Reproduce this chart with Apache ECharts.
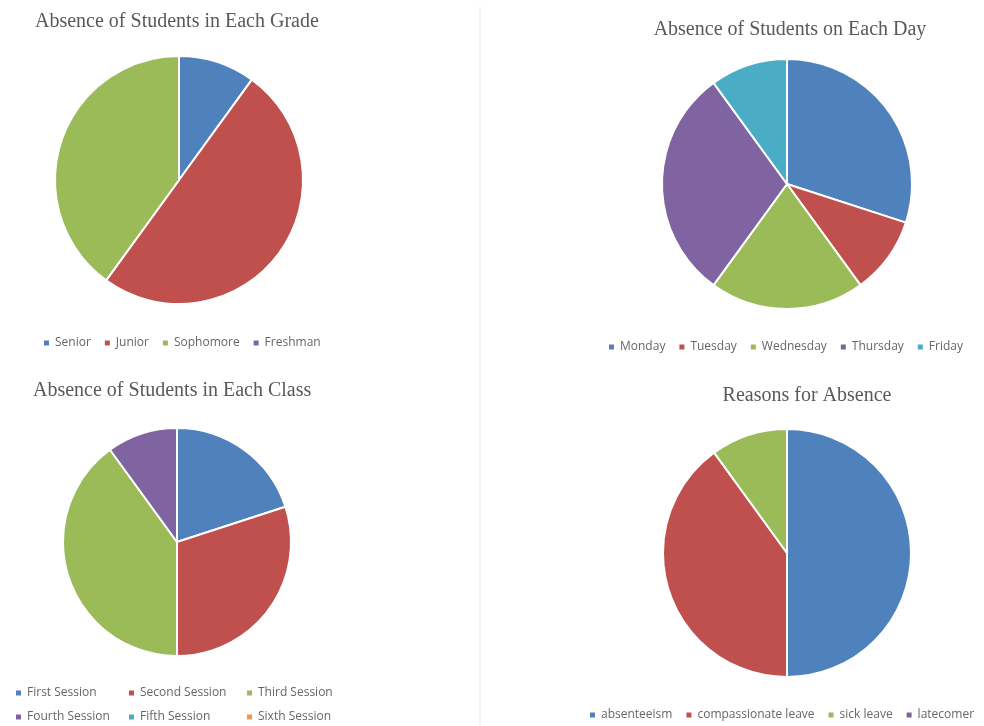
<!DOCTYPE html>
<html>
<head>
<meta charset="utf-8">
<script src="https://cdn.jsdelivr.net/npm/echarts@6/dist/echarts.min.js"></script>
<style>
html,body{margin:0;padding:0;background:#fff;}
#c{width:984px;height:726px;}
</style>
</head>
<body>
<div id="c"></div>
<script>
// Chart 1: grades
var gradeNames = ['Senior', 'Junior', 'Sophomore', 'Freshman'];
var gradeValues = [10, 50, 40, 0];
// Chart 2: days
var dayNames = ['Monday', 'Tuesday', 'Wednesday', 'Thursday', 'Friday'];
var dayValues = [30, 10, 20, 30, 10];
// Chart 3: class sessions
var sessionNames = ['First Session', 'Second Session', 'Third Session', 'Fourth Session', 'Fifth Session', 'Sixth Session'];
var sessionValues = [20, 30, 40, 10, 0, 0];
// Chart 4: reasons
var reasonNames = ['absenteeism', 'compassionate leave', 'sick leave', 'latecomer'];
var reasonValues = [50, 40, 10, 0];

var titles = ['Absence of Students in Each Grade', 'Absence of Students on Each Day', 'Absence of Students in Each Class', 'Reasons for Absence'];

var palette = ['#4F81BD', '#C0504D', '#9BBB59', '#8064A2', '#4BACC6', '#F79646'];

function toData(names, values) {
  return names.map(function (n, i) {
    return { name: n, value: values[i], itemStyle: { color: palette[i] } };
  });
}

var chart = echarts.init(document.getElementById('c'));

var titleStyle = { fontFamily: 'Liberation Serif', fontSize: 20, fontWeight: 'normal', color: '#595959' };
var legendText = { fontFamily: 'Open Sans', fontSize: 12, color: '#666666' };

function pie(idx, center, radius, names, values) {
  return {
    type: 'pie',
    name: titles[idx],
    center: center,
    radius: radius,
    startAngle: 90,
    clockwise: true,
    label: { show: false },
    labelLine: { show: false },
    emphasis: { disabled: true },
    stillShowZeroSum: true,
    itemStyle: { borderColor: '#fff', borderWidth: 2 },
    data: toData(names, values),
    animation: false
  };
}

function legend(names, left, top, gap) {
  return {
    data: names,
    left: left,
    top: top,
    orient: 'horizontal',
    padding: 0,
    itemWidth: 7,
    itemHeight: 7,
    itemGap: gap,
    icon: 'rect',
    textStyle: legendText,
    selectedMode: false
  };
}

var legends = [
  legend(gradeNames, 42, 337, 12),
  legend(dayNames, 607, 341, 12)
];
// class legend: two rows with aligned columns
var colX = [14, 127, 245];
sessionNames.forEach(function (n, i) {
  legends.push(legend([n], colX[i % 3], i < 3 ? 687 : 711, 8));
});
legends.push(legend(reasonNames, 588, 709, 12));

chart.setOption({
  backgroundColor: '#fff',
  color: palette,
  title: [
    { text: titles[0], left: 30, top: 7, textStyle: titleStyle },
    { text: titles[1], left: 785, textAlign: 'center', top: 15, textStyle: titleStyle },
    { text: titles[2], left: 28, top: 376, textStyle: titleStyle },
    { text: titles[3], left: 802, textAlign: 'center', top: 381, textStyle: titleStyle }
  ],
  legend: legends,
  graphic: [
    { type: 'line', shape: { x1: 480, y1: 6, x2: 480, y2: 726 }, style: { stroke: '#ebebeb', lineWidth: 1 }, silent: true }
  ],
  series: [
    pie(0, [179, 180], [0, 124], gradeNames, gradeValues),
    pie(1, [787, 184], [0, 125], dayNames, dayValues),
    pie(2, [177, 542], [0, 114], sessionNames, sessionValues),
    pie(3, [787, 553], [0, 124], reasonNames, reasonValues)
  ]
});
</script>
</body>
</html>
